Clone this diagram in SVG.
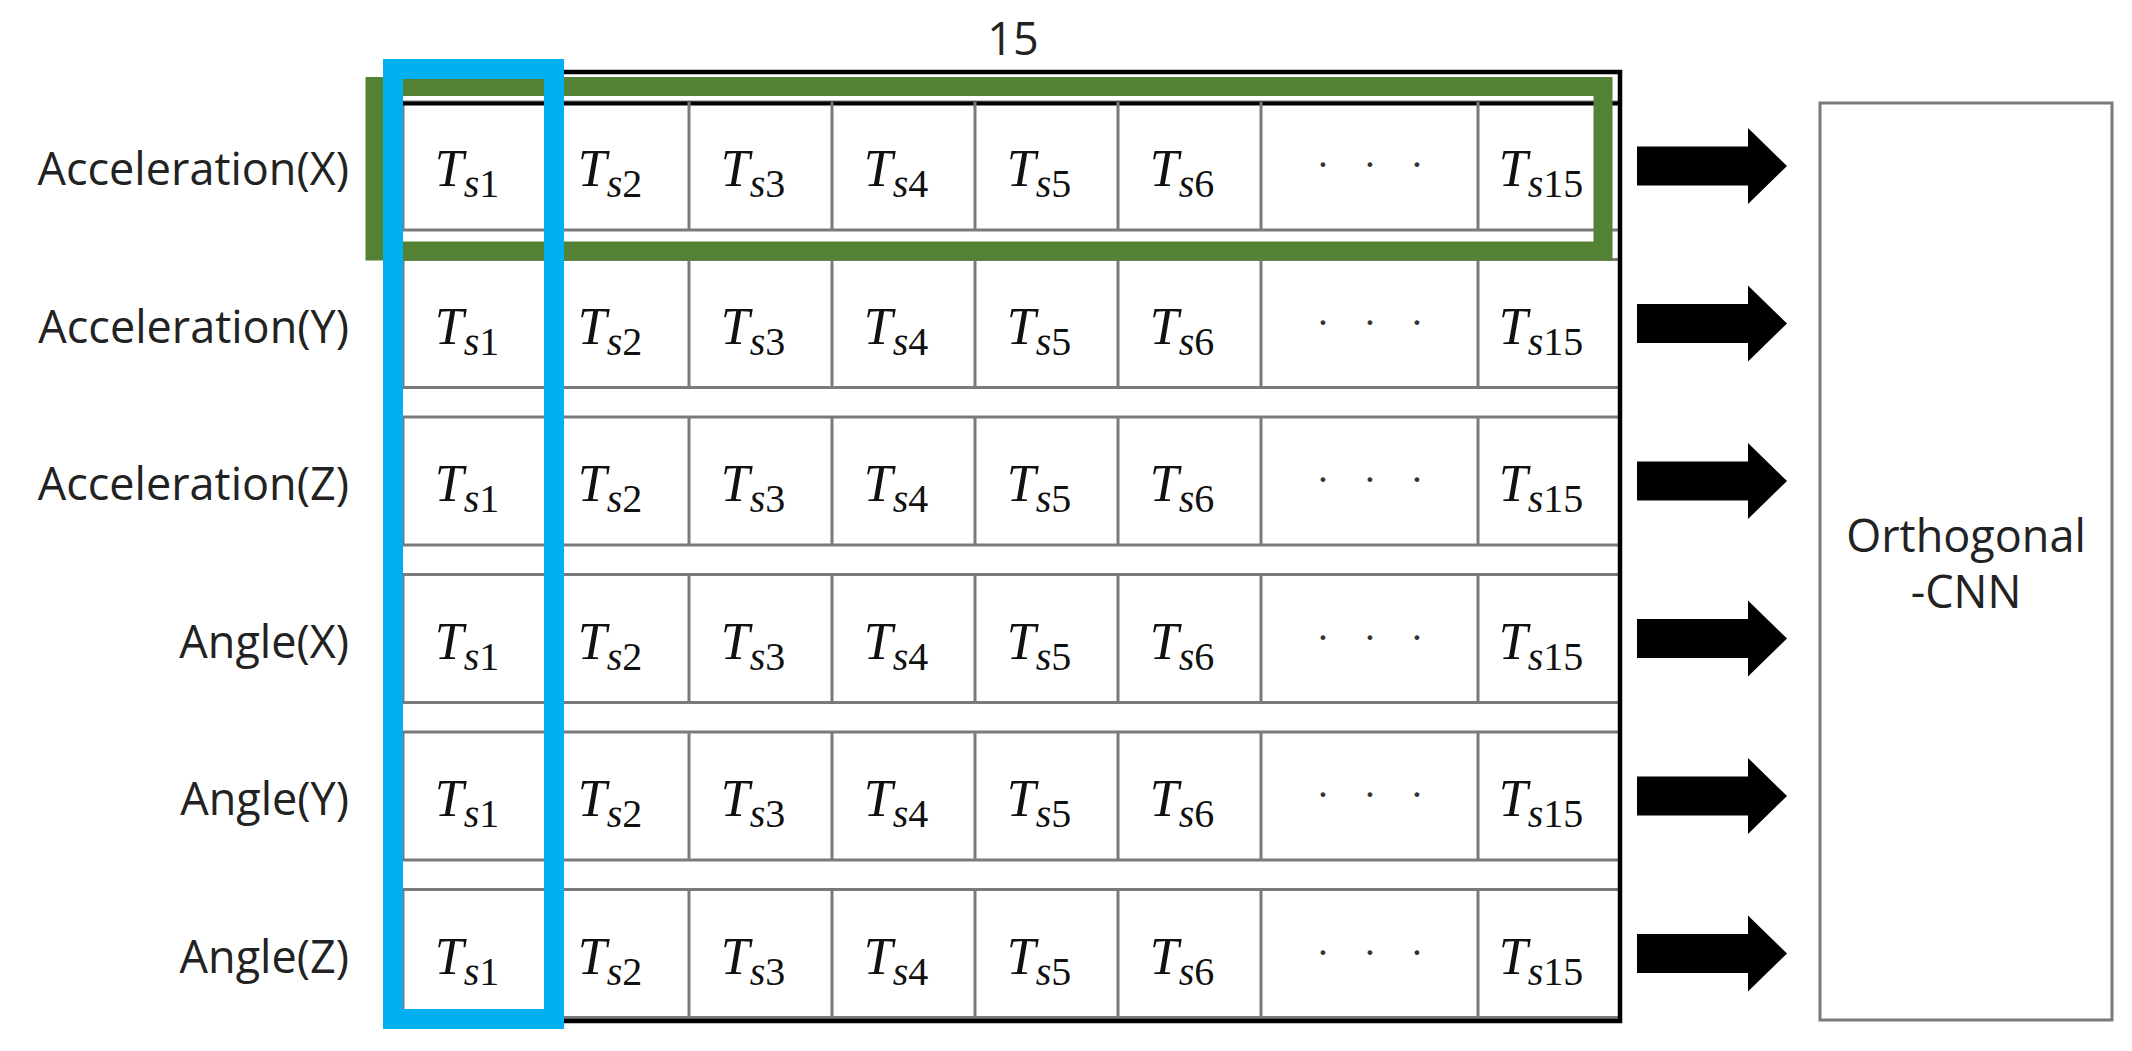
<svg xmlns="http://www.w3.org/2000/svg" width="2132" height="1051" viewBox="0 0 2132 1051">
<style>
.bg{fill:#ffffff}
.cell{fill:#ffffff;stroke:#7a7a7a;stroke-width:3}
.vl{stroke:#7a7a7a;stroke-width:3}
.lbl{font-family:"Open Sans","Noto Sans",sans-serif;font-size:45px;fill:#222222}
.t{font-family:"Liberation Serif","DejaVu Serif",serif;font-style:italic;font-size:52px;fill:#111111;text-anchor:middle}
.s{font-size:40px}
.n{font-size:40px;font-style:normal}
.dots{font-family:"Liberation Serif",serif;font-size:40px;fill:#333333;text-anchor:middle}
.arrow{fill:#000000}
</style>
<rect class="bg" x="0" y="0" width="2132" height="1051"/>

<text class="lbl" x="1013" y="55" text-anchor="middle">15</text>

<g id="row-acc-x">
<rect class="cell" x="403" y="102" width="1217" height="128"/>
<line x1="403" y1="103.5" x2="1620" y2="103.5" stroke="#000" stroke-width="4"/>
<line class="vl" x1="546" y1="102" x2="546" y2="230"/><line class="vl" x1="689" y1="102" x2="689" y2="230"/><line class="vl" x1="832" y1="102" x2="832" y2="230"/><line class="vl" x1="975" y1="102" x2="975" y2="230"/><line class="vl" x1="1118" y1="102" x2="1118" y2="230"/><line class="vl" x1="1261" y1="102" x2="1261" y2="230"/><line class="vl" x1="1478" y1="102" x2="1478" y2="230"/>
<text class="lbl" x="349" y="185" text-anchor="end">Acceleration(X)</text>
<text class="t" x="467" y="186">T<tspan class="s" dy="11">s</tspan><tspan class="n">1</tspan></text>
<text class="t" x="610" y="186">T<tspan class="s" dy="11">s</tspan><tspan class="n">2</tspan></text>
<text class="t" x="753" y="186">T<tspan class="s" dy="11">s</tspan><tspan class="n">3</tspan></text>
<text class="t" x="896" y="186">T<tspan class="s" dy="11">s</tspan><tspan class="n">4</tspan></text>
<text class="t" x="1039" y="186">T<tspan class="s" dy="11">s</tspan><tspan class="n">5</tspan></text>
<text class="t" x="1182" y="186">T<tspan class="s" dy="11">s</tspan><tspan class="n">6</tspan></text>
<text class="dots" x="1323 1370 1417" y="178">···</text>
<text class="t" x="1541" y="186">T<tspan class="s" dy="11">s</tspan><tspan class="n">15</tspan></text>
</g>

<g id="row-acc-y">
<rect class="cell" x="403" y="259.5" width="1217" height="128"/>
<line class="vl" x1="546" y1="259.5" x2="546" y2="387.5"/><line class="vl" x1="689" y1="259.5" x2="689" y2="387.5"/><line class="vl" x1="832" y1="259.5" x2="832" y2="387.5"/><line class="vl" x1="975" y1="259.5" x2="975" y2="387.5"/><line class="vl" x1="1118" y1="259.5" x2="1118" y2="387.5"/><line class="vl" x1="1261" y1="259.5" x2="1261" y2="387.5"/><line class="vl" x1="1478" y1="259.5" x2="1478" y2="387.5"/>
<text class="lbl" x="349" y="342.5" text-anchor="end">Acceleration(Y)</text>
<text class="t" x="467" y="343.5">T<tspan class="s" dy="11">s</tspan><tspan class="n">1</tspan></text>
<text class="t" x="610" y="343.5">T<tspan class="s" dy="11">s</tspan><tspan class="n">2</tspan></text>
<text class="t" x="753" y="343.5">T<tspan class="s" dy="11">s</tspan><tspan class="n">3</tspan></text>
<text class="t" x="896" y="343.5">T<tspan class="s" dy="11">s</tspan><tspan class="n">4</tspan></text>
<text class="t" x="1039" y="343.5">T<tspan class="s" dy="11">s</tspan><tspan class="n">5</tspan></text>
<text class="t" x="1182" y="343.5">T<tspan class="s" dy="11">s</tspan><tspan class="n">6</tspan></text>
<text class="dots" x="1323 1370 1417" y="335.5">···</text>
<text class="t" x="1541" y="343.5">T<tspan class="s" dy="11">s</tspan><tspan class="n">15</tspan></text>
</g>

<g id="row-acc-z">
<rect class="cell" x="403" y="417" width="1217" height="128"/>
<line class="vl" x1="546" y1="417" x2="546" y2="545"/><line class="vl" x1="689" y1="417" x2="689" y2="545"/><line class="vl" x1="832" y1="417" x2="832" y2="545"/><line class="vl" x1="975" y1="417" x2="975" y2="545"/><line class="vl" x1="1118" y1="417" x2="1118" y2="545"/><line class="vl" x1="1261" y1="417" x2="1261" y2="545"/><line class="vl" x1="1478" y1="417" x2="1478" y2="545"/>
<text class="lbl" x="349" y="500" text-anchor="end">Acceleration(Z)</text>
<text class="t" x="467" y="501">T<tspan class="s" dy="11">s</tspan><tspan class="n">1</tspan></text>
<text class="t" x="610" y="501">T<tspan class="s" dy="11">s</tspan><tspan class="n">2</tspan></text>
<text class="t" x="753" y="501">T<tspan class="s" dy="11">s</tspan><tspan class="n">3</tspan></text>
<text class="t" x="896" y="501">T<tspan class="s" dy="11">s</tspan><tspan class="n">4</tspan></text>
<text class="t" x="1039" y="501">T<tspan class="s" dy="11">s</tspan><tspan class="n">5</tspan></text>
<text class="t" x="1182" y="501">T<tspan class="s" dy="11">s</tspan><tspan class="n">6</tspan></text>
<text class="dots" x="1323 1370 1417" y="493">···</text>
<text class="t" x="1541" y="501">T<tspan class="s" dy="11">s</tspan><tspan class="n">15</tspan></text>
</g>

<g id="row-ang-x">
<rect class="cell" x="403" y="574.5" width="1217" height="128"/>
<line class="vl" x1="546" y1="574.5" x2="546" y2="702.5"/><line class="vl" x1="689" y1="574.5" x2="689" y2="702.5"/><line class="vl" x1="832" y1="574.5" x2="832" y2="702.5"/><line class="vl" x1="975" y1="574.5" x2="975" y2="702.5"/><line class="vl" x1="1118" y1="574.5" x2="1118" y2="702.5"/><line class="vl" x1="1261" y1="574.5" x2="1261" y2="702.5"/><line class="vl" x1="1478" y1="574.5" x2="1478" y2="702.5"/>
<text class="lbl" x="349" y="657.5" text-anchor="end">Angle(X)</text>
<text class="t" x="467" y="658.5">T<tspan class="s" dy="11">s</tspan><tspan class="n">1</tspan></text>
<text class="t" x="610" y="658.5">T<tspan class="s" dy="11">s</tspan><tspan class="n">2</tspan></text>
<text class="t" x="753" y="658.5">T<tspan class="s" dy="11">s</tspan><tspan class="n">3</tspan></text>
<text class="t" x="896" y="658.5">T<tspan class="s" dy="11">s</tspan><tspan class="n">4</tspan></text>
<text class="t" x="1039" y="658.5">T<tspan class="s" dy="11">s</tspan><tspan class="n">5</tspan></text>
<text class="t" x="1182" y="658.5">T<tspan class="s" dy="11">s</tspan><tspan class="n">6</tspan></text>
<text class="dots" x="1323 1370 1417" y="650.5">···</text>
<text class="t" x="1541" y="658.5">T<tspan class="s" dy="11">s</tspan><tspan class="n">15</tspan></text>
</g>

<g id="row-ang-y">
<rect class="cell" x="403" y="732" width="1217" height="128"/>
<line class="vl" x1="546" y1="732" x2="546" y2="860"/><line class="vl" x1="689" y1="732" x2="689" y2="860"/><line class="vl" x1="832" y1="732" x2="832" y2="860"/><line class="vl" x1="975" y1="732" x2="975" y2="860"/><line class="vl" x1="1118" y1="732" x2="1118" y2="860"/><line class="vl" x1="1261" y1="732" x2="1261" y2="860"/><line class="vl" x1="1478" y1="732" x2="1478" y2="860"/>
<text class="lbl" x="349" y="815" text-anchor="end">Angle(Y)</text>
<text class="t" x="467" y="816">T<tspan class="s" dy="11">s</tspan><tspan class="n">1</tspan></text>
<text class="t" x="610" y="816">T<tspan class="s" dy="11">s</tspan><tspan class="n">2</tspan></text>
<text class="t" x="753" y="816">T<tspan class="s" dy="11">s</tspan><tspan class="n">3</tspan></text>
<text class="t" x="896" y="816">T<tspan class="s" dy="11">s</tspan><tspan class="n">4</tspan></text>
<text class="t" x="1039" y="816">T<tspan class="s" dy="11">s</tspan><tspan class="n">5</tspan></text>
<text class="t" x="1182" y="816">T<tspan class="s" dy="11">s</tspan><tspan class="n">6</tspan></text>
<text class="dots" x="1323 1370 1417" y="808">···</text>
<text class="t" x="1541" y="816">T<tspan class="s" dy="11">s</tspan><tspan class="n">15</tspan></text>
</g>

<g id="row-ang-z">
<rect class="cell" x="403" y="889.5" width="1217" height="128"/>
<line class="vl" x1="546" y1="889.5" x2="546" y2="1017.5"/><line class="vl" x1="689" y1="889.5" x2="689" y2="1017.5"/><line class="vl" x1="832" y1="889.5" x2="832" y2="1017.5"/><line class="vl" x1="975" y1="889.5" x2="975" y2="1017.5"/><line class="vl" x1="1118" y1="889.5" x2="1118" y2="1017.5"/><line class="vl" x1="1261" y1="889.5" x2="1261" y2="1017.5"/><line class="vl" x1="1478" y1="889.5" x2="1478" y2="1017.5"/>
<text class="lbl" x="349" y="972.5" text-anchor="end">Angle(Z)</text>
<text class="t" x="467" y="973.5">T<tspan class="s" dy="11">s</tspan><tspan class="n">1</tspan></text>
<text class="t" x="610" y="973.5">T<tspan class="s" dy="11">s</tspan><tspan class="n">2</tspan></text>
<text class="t" x="753" y="973.5">T<tspan class="s" dy="11">s</tspan><tspan class="n">3</tspan></text>
<text class="t" x="896" y="973.5">T<tspan class="s" dy="11">s</tspan><tspan class="n">4</tspan></text>
<text class="t" x="1039" y="973.5">T<tspan class="s" dy="11">s</tspan><tspan class="n">5</tspan></text>
<text class="t" x="1182" y="973.5">T<tspan class="s" dy="11">s</tspan><tspan class="n">6</tspan></text>
<text class="dots" x="1323 1370 1417" y="965.5">···</text>
<text class="t" x="1541" y="973.5">T<tspan class="s" dy="11">s</tspan><tspan class="n">15</tspan></text>
</g>

<g id="frame">
<rect x="397" y="72" width="1223" height="949" fill="none" stroke="#000000" stroke-width="4.5"/>
</g>

<g id="highlight-row">
<rect x="375" y="86.5" width="1228" height="164.5" fill="none" stroke="#548235" stroke-width="19"/>
</g>

<g id="highlight-col">
<rect x="393" y="69" width="161" height="950" fill="none" stroke="#00B0F0" stroke-width="20"/>
</g>

<g id="connectors">
<polygon class="arrow" points="1637,146.5 1748,146.5 1748,128 1787,166 1748,204 1748,185.5 1637,185.5"/>
<polygon class="arrow" points="1637,304 1748,304 1748,285.5 1787,323.5 1748,361.5 1748,343 1637,343"/>
<polygon class="arrow" points="1637,461.5 1748,461.5 1748,443 1787,481 1748,519 1748,500.5 1637,500.5"/>
<polygon class="arrow" points="1637,619 1748,619 1748,600.5 1787,638.5 1748,676.5 1748,658 1637,658"/>
<polygon class="arrow" points="1637,776.5 1748,776.5 1748,758 1787,796 1748,834 1748,815.5 1637,815.5"/>
<polygon class="arrow" points="1637,934 1748,934 1748,915.5 1787,953.5 1748,991.5 1748,973 1637,973"/>
</g>

<g id="orthogonal-cnn">
<rect x="1820" y="103" width="292" height="917" fill="#ffffff" stroke="#7a7a7a" stroke-width="3"/>
<text class="lbl" x="1966" y="552" text-anchor="middle">Orthogonal</text>
<text class="lbl" x="1966" y="608" text-anchor="middle">-CNN</text>
</g>
</svg>
